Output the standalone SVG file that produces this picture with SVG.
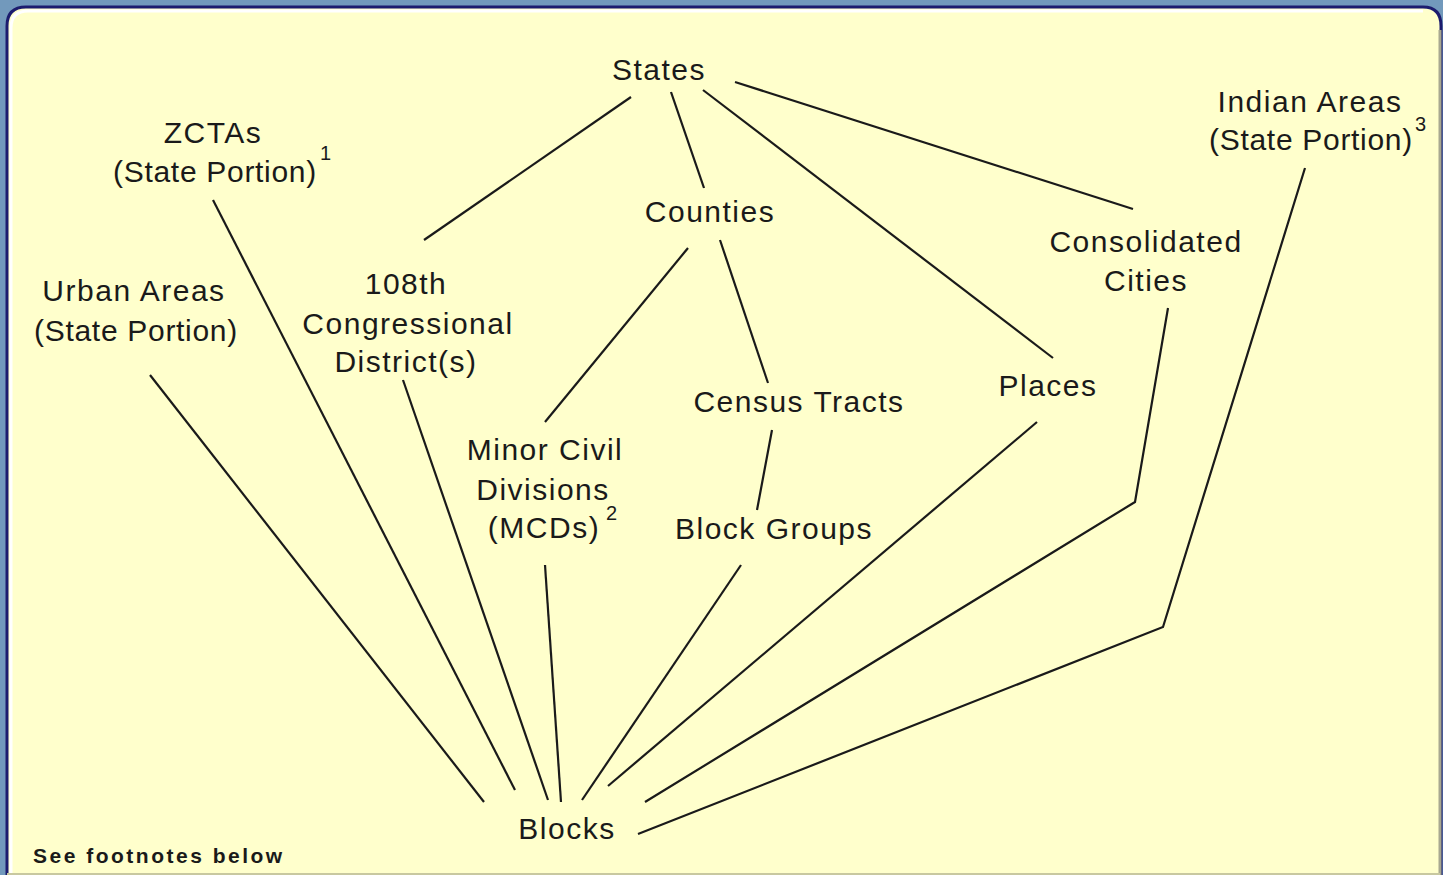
<svg xmlns="http://www.w3.org/2000/svg" width="1443" height="875" viewBox="0 0 1443 875">
<style>
.t{font-family:"Liberation Sans",Arial,sans-serif;font-size:30px;fill:#1a1a1a;text-anchor:middle;letter-spacing:1.5px}
.t.p{letter-spacing:0.7px}
.s{font-family:"Liberation Sans",Arial,sans-serif;font-size:20px;fill:#1a1a1a}
.f{font-family:"Liberation Sans",Arial,sans-serif;font-size:21px;font-weight:bold;fill:#1a1a1a;letter-spacing:2.5px}
.c line,.c polyline{stroke:#1a1a1a;stroke-width:2.2;fill:none}
</style>
<rect x="0" y="0" width="1443" height="875" fill="#7299bc"/>
<path d="M7,875 V26 Q7,7 26,7 H1423 Q1441,7 1441,26 V875 Z" fill="#ffffcc" stroke="#1c1c6e" stroke-width="3"/>
<path d="M11,875 V28 Q11,11 28,11 H1423" fill="none" stroke="#ffffff" stroke-width="3"/>
<line x1="1440" y1="30" x2="1440" y2="875" stroke="#a8a890" stroke-width="3"/>
<line x1="7" y1="874" x2="1440" y2="874" stroke="#c8c8a0" stroke-width="2"/>
<g class="c" id="connectors">
<line x1="631" y1="97" x2="424" y2="240"/>
<line x1="671" y1="92" x2="704" y2="188"/>
<line x1="703" y1="90" x2="1053" y2="358"/>
<line x1="735" y1="82" x2="1133" y2="209"/>
<line x1="688" y1="248" x2="545" y2="422"/>
<line x1="720" y1="240" x2="768" y2="383"/>
<line x1="772" y1="430" x2="757" y2="510"/>
<line x1="150" y1="375" x2="484" y2="802"/>
<line x1="213" y1="200" x2="515" y2="790"/>
<line x1="403" y1="380" x2="548" y2="800"/>
<line x1="545" y1="565" x2="561" y2="802"/>
<line x1="741" y1="565" x2="582" y2="800"/>
<line x1="1037" y1="422" x2="608" y2="786"/>
<polyline points="1168,308 1135,502 645,802"/>
<polyline points="1305,168 1163,627 638,834"/>
</g>
<g id="states"><text class="t" x="659" y="80">States</text></g>
<g id="zctas"><text class="t" x="213" y="143">ZCTAs</text><text class="t p" x="215" y="182">(State Portion)</text><text class="s" x="320" y="160">1</text></g>
<g id="indian-areas"><text class="t" x="1310" y="112">Indian Areas</text><text class="t p" x="1311" y="150">(State Portion)</text><text class="s" x="1415" y="131">3</text></g>
<g id="counties"><text class="t" x="710" y="222">Counties</text></g>
<g id="consolidated-cities"><text class="t" x="1146" y="252">Consolidated</text><text class="t" x="1146" y="291">Cities</text></g>
<g id="urban-areas"><text class="t" x="134" y="301">Urban Areas</text><text class="t p" x="136" y="341">(State Portion)</text></g>
<g id="congressional"><text class="t" x="406" y="294">108th</text><text class="t" x="408" y="334">Congressional</text><text class="t" x="406" y="372">District(s)</text></g>
<g id="census-tracts"><text class="t" x="799" y="412">Census Tracts</text></g>
<g id="places"><text class="t" x="1048" y="396">Places</text></g>
<g id="mcds"><text class="t" x="545" y="460">Minor Civil</text><text class="t" x="543" y="500">Divisions</text><text class="t" x="544" y="538">(MCDs)</text><text class="s" x="606" y="520">2</text></g>
<g id="block-groups"><text class="t" x="774" y="539">Block Groups</text></g>
<g id="blocks"><text class="t" x="567" y="839">Blocks</text></g>
<text class="f" x="33" y="863">See footnotes below</text>
</svg>
